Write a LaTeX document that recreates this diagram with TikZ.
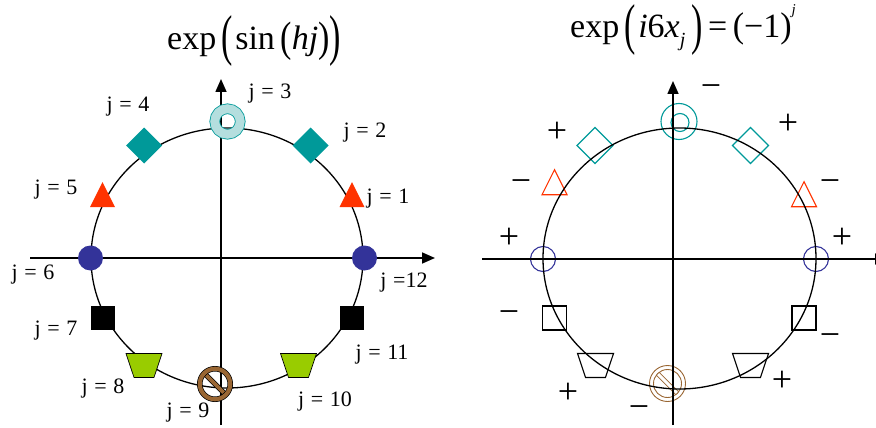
\documentclass[tikz,border=0pt]{standalone}
\usepackage{fontspec}
\setmainfont{Liberation Serif}
\usepackage{graphicx}
\usepackage{xcolor}
\definecolor{tealmk}{RGB}{0,153,153}
\definecolor{tealpale}{RGB}{180,222,222}
\definecolor{redmk}{RGB}{255,51,0}
\definecolor{bluemk}{RGB}{51,51,153}
\definecolor{greenmk}{RGB}{153,204,0}
\definecolor{brownmk}{RGB}{153,102,51}
\usetikzlibrary{arrows.meta, positioning, shapes.geometric}

\newcommand{\jsp}{\hspace{0.3em}}
\newcommand{\tpar}[3]{\raisebox{#2}{\scalebox{1}[#1]{#3}}}

\begin{document}
\begin{tikzpicture}[
  x=1pt, y=-1pt,
  axarr/.style={line width=1.6pt, -{Triangle[length=13pt,width=11pt]}},
  rim/.style={line width=1.3pt},
  mk/.style={inner sep=0pt, outer sep=0pt},
  dmd/.style={mk, diamond, minimum size=36pt},
  tri/.style={mk, isosceles triangle, shape border rotate=90,
    isosceles triangle stretches, minimum width=25pt, minimum height=25pt},
  bdot/.style={mk, circle, minimum size=25pt},
  sqr/.style={mk, rectangle, minimum size=24pt},
  trap/.style={mk, inner sep=1pt, trapezium, shape border rotate=180, trapezium stretches,
    trapezium angle=68, minimum width=36pt, minimum height=24pt},
  hol/.style={line width=1.1pt, fill=none},
  jlab/.style={font=\fontsize{22}{22}\selectfont, inner sep=0pt},
  sgn/.style={font=\fontsize{36}{36}\selectfont, anchor=base, inner sep=0pt},
  ttl/.style={font=\fontsize{34}{34}\selectfont, anchor=base west, inner sep=0pt},
]
\useasboundingbox (0,0) rectangle (876,428);

%% Titel
\node[ttl] (ttlL) at (167,50)
  {exp\,\tpar{1.65}{-0.14em}{(}\hspace{2pt}sin\,\tpar{1.25}{-0.03em}{(}\textit{hj}\tpar{1.25}{-0.03em}{)}\tpar{1.65}{-0.14em}{)}};
\node[ttl] (ttlR) at (570,38)
  {exp\,\tpar{1.65}{-0.17em}{(}\hspace{2pt}\textit{i}6\textit{x}\raisebox{-8.6pt}{\fontsize{20}{20}\selectfont\textit{j}}\,\tpar{1.65}{-0.17em}{)}\,=\,\tpar{1.05}{0pt}{(}−1\tpar{1.05}{0pt}{)}\raisebox{23pt}{\fontsize{15}{15}\selectfont\textit{j}}};

%% Links: Kreis und Achsen
\coordinate (oL)  at (227,258);
\coordinate (hLw) at (30,258);
\coordinate (hLe) at (435,258);
\coordinate (vLs) at (221,425);
\coordinate (vLn) at (221,79);
\draw[rim] (oL) ellipse [x radius=136, y radius=130];
\draw[axarr] (hLw) -- (hLe);
\draw[axarr] (vLs) -- (vLn);

%% Links: Marker
\node[tri, fill=redmk]   (l1)  at (352,199.5) {};
\node[dmd, fill=tealmk]  (l2)  at (310.5,145.5) {};
\node[mk, circle, draw=tealmk, line width=0.8pt, double=tealpale,
      double distance=8.9pt, minimum size=25.5pt] (l3) at (227.5,121.5) {};
\node[dmd, fill=tealmk]  (l4)  at (144,145.5) {};
\node[tri, fill=redmk]   (l5)  at (102.5,199.5) {};
\node[bdot, fill=bluemk] (l6)  at (90.5,258) {};
\node[sqr, fill=black]   (l7)  at (102.5,318) {};
\node[trap, fill=greenmk, draw=black, line width=0.7pt] (l8) at (144,365.5) {};
\coordinate (c9) at (215,384);
\draw[line width=0.7pt, double=brownmk, double distance=3.6pt]
  ([shift={(-9.2,-9.2)}]c9) -- ([shift={(9.2,9.2)}]c9);
\node[mk, circle, draw=black, line width=0.7pt, double=brownmk,
      double distance=4.1pt, minimum size=30.5pt] (l9) at (c9) {};
\node[trap, fill=greenmk, draw=black, line width=0.7pt] (l10) at (298.5,365.5) {};
\node[sqr, fill=black]   (l11) at (351.5,318) {};
\node[bdot, fill=bluemk] (l12) at (364.5,258) {};

%% Links: Beschriftung
\node[jlab] (jl1)  at (388,199) {j\jsp=\jsp 1};
\node[jlab] (jl2)  at (365,133) {j\jsp=\jsp 2};
\node[jlab] (jl3)  at (270,94)  {j\jsp=\jsp 3};
\node[jlab] (jl4)  at (128,107) {j\jsp=\jsp 4};
\node[jlab] (jl5)  at (56,190)  {j\jsp=\jsp 5};
\node[jlab] (jl6)  at (33,275)  {j\jsp=\jsp 6};
\node[jlab] (jl7)  at (56,331)  {j\jsp=\jsp 7};
\node[jlab] (jl8)  at (103,389) {j\jsp=\jsp 8};
\node[jlab] (jl9)  at (188,413) {j\jsp=\jsp 9};
\node[jlab] (jl10) at (325,402) {j\jsp=\jsp 10};
\node[jlab] (jl11) at (382,355) {j\jsp=\jsp 11};
\node[jlab] (jl12) at (404,283) {j\jsp=12};

%% Rechts: Marker (nur Umriss)
\node[tri, hol, draw=redmk]   (r1)  at (804,199) {};
\node[dmd, hol, draw=tealmk]  (r2)  at (750.5,145.5) {};
\node[mk, circle, hol, draw=tealmk, minimum size=36pt] (r3o) at (679,121.5) {};
\node[mk, circle, hol, draw=tealmk, minimum size=18pt] (r3i) at (680,122.5) {};
\node[dmd, hol, draw=tealmk]  (r4)  at (595,145.5) {};
\node[tri, hol, draw=redmk]   (r5)  at (554.5,187) {};
\node[bdot, hol, draw=bluemk] (r6)  at (543,259) {};
\node[sqr, hol, draw=black]   (r7)  at (554.5,318) {};
\node[trap, hol, draw=black]  (r8)  at (595.5,365.5) {};
\coordinate (cr9) at (667.5,383.5);
\draw[brownmk, line width=0.9pt, double=white, double distance=3pt]
  ([shift={(-9.9,-9.9)}]cr9) -- ([shift={(9.9,9.9)}]cr9);
\node[mk, circle, hol, draw=brownmk, line width=0.9pt, minimum size=36pt] (r9o) at (cr9) {};
\node[mk, circle, hol, draw=brownmk, line width=0.9pt, minimum size=28pt] (r9i) at (cr9) {};
\node[trap, hol, draw=black]  (r10) at (750.5,365.5) {};
\node[sqr, hol, draw=black]   (r11) at (804,318) {};
\node[bdot, hol, draw=bluemk] (r12) at (816,259) {};

%% Rechts: Kreis und Achsen
\coordinate (oR)  at (679.5,258.5);
\coordinate (hRw) at (482,259);
\coordinate (hRe) at (888,259);
\coordinate (vRs) at (673,425);
\coordinate (vRn) at (673,81);
\draw[rim] (oR) ellipse [x radius=136.5, y radius=130.5];
\draw[axarr] (hRw) -- (hRe);
\draw[axarr] (vRs) -- (vRn);

%% Rechts: Vorzeichen
\node[sgn] (s1)  at (830,192)  {−};
\node[sgn] (s2)  at (788,135)  {+};
\node[sgn] (s3)  at (711,97)   {−};
\node[sgn] (s4)  at (557,142)  {+};
\node[sgn] (s5)  at (521,192)  {−};
\node[sgn] (s6)  at (509,248)  {+};
\node[sgn] (s7)  at (509,323)  {−};
\node[sgn] (s8)  at (568,403)  {+};
\node[sgn] (s9)  at (639,418)  {−};
\node[sgn] (s10) at (782,391)  {+};
\node[sgn] (s11) at (830,346)  {−};
\node[sgn] (s12) at (842,248)  {+};

\end{tikzpicture}
\end{document}
